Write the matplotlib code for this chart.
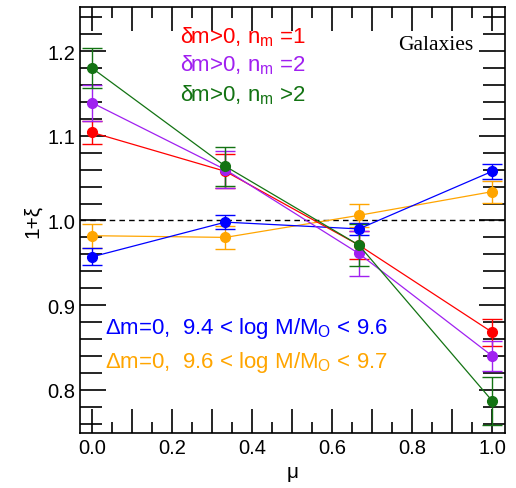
import matplotlib
matplotlib.use('Agg')
import matplotlib.pyplot as plt
import numpy as np

plt.rcParams['font.family'] = ['Liberation Sans', 'DejaVu Sans']
plt.rcParams['mathtext.fontset'] = 'custom'
plt.rcParams['mathtext.rm'] = 'Liberation Sans'
plt.rcParams['mathtext.it'] = 'Liberation Sans:italic'

mu = [0.0, 1/3, 2/3, 1.0]

# delta m > 0 samples
nm1 = [1.104, 1.058, 0.971, 0.868]
nm1_err = [0.014, 0.020, 0.016, 0.016]
nm2 = [1.139, 1.060, 0.961, 0.840]
nm2_err = [0.021, 0.022, 0.027, 0.018]
nm3 = [1.180, 1.064, 0.971, 0.787]
nm3_err = [0.024, 0.023, 0.025, 0.028]

# delta m = 0 mass bins
low = [0.957, 0.998, 0.990, 1.058]
low_err = [0.010, 0.008, 0.007, 0.009]
high = [0.982, 0.980, 1.006, 1.034]
high_err = [0.014, 0.014, 0.014, 0.013]

series = [
    (high, high_err, '#ffa500'),
    (low, low_err, '#0000ff'),
    (nm1, nm1_err, '#ff0000'),
    (nm2, nm2_err, '#a020f0'),
    (nm3, nm3_err, '#137313'),
]

fig = plt.figure(figsize=(5.16, 4.89), dpi=100)
ax = fig.add_axes([0.155, 0.1125, 0.824, 0.871])

ax.axhline(1.0, color='black', ls='--', lw=1, dashes=(4, 3))

for vals, errs, col in series:
    ax.errorbar(mu, vals, yerr=errs, color=col, marker='o', ms=7, lw=0.9,
                elinewidth=1.0, capsize=7.5, capthick=1.0)

ax.set_xlim(-0.03, 1.0325)
ax.set_ylim(0.749, 1.252)
xt = np.round(np.arange(0, 1.01, 0.1), 1)
ax.set_xticks(xt)
ax.set_xticklabels([f'{v:.1f}' if i % 2 == 0 else '' for i, v in enumerate(xt)])
ax.set_xticks(np.arange(0.05, 1.0, 0.1), minor=True)
ax.set_yticks(np.arange(0.8, 1.21, 0.1))
ax.set_yticks(np.arange(0.76, 1.25, 0.02), minor=True)
ax.set_yticklabels(['0.8', '0.9', '1.0', '1.1', '1.2'])
ax.tick_params(which='both', direction='in', top=True, right=True, labelsize=14.5, width=1.2)
ax.tick_params(axis='x', which='major', length=17)
ax.tick_params(axis='x', which='minor', length=8)
ax.tick_params(axis='y', which='major', length=19)
ax.tick_params(axis='y', which='minor', length=16)
for s in ax.spines.values():
    s.set_linewidth(1.2)

ax.set_xlabel('μ', fontsize=15)
ax.set_ylabel('1+ξ', fontsize=15)

ax.text(0.378, 1.218, 'δm>0, n$_{\\rm m}$ =1', color='#ff0000', fontsize=16, ha='center', va='center')
ax.text(0.378, 1.184, 'δm>0, n$_{\\rm m}$ =2', color='#a020f0', fontsize=16, ha='center', va='center')
ax.text(0.378, 1.149, 'δm>0, n$_{\\rm m}$ >2', color='#137313', fontsize=16, ha='center', va='center')
ax.text(0.9525, 1.208, 'Galaxies', color='black', fontsize=15.5, ha='right', va='center',
        family='Liberation Serif')
ax.text(0.033, 0.873, 'Δm=0,  9.4 < log M/M$_{\\rm O}$ < 9.6', color='#0000ff', fontsize=16, va='center')
ax.text(0.033, 0.834, 'Δm=0,  9.6 < log M/M$_{\\rm O}$ < 9.7', color='#ffa500', fontsize=16, va='center')

fig.savefig('out.png', dpi=100)
